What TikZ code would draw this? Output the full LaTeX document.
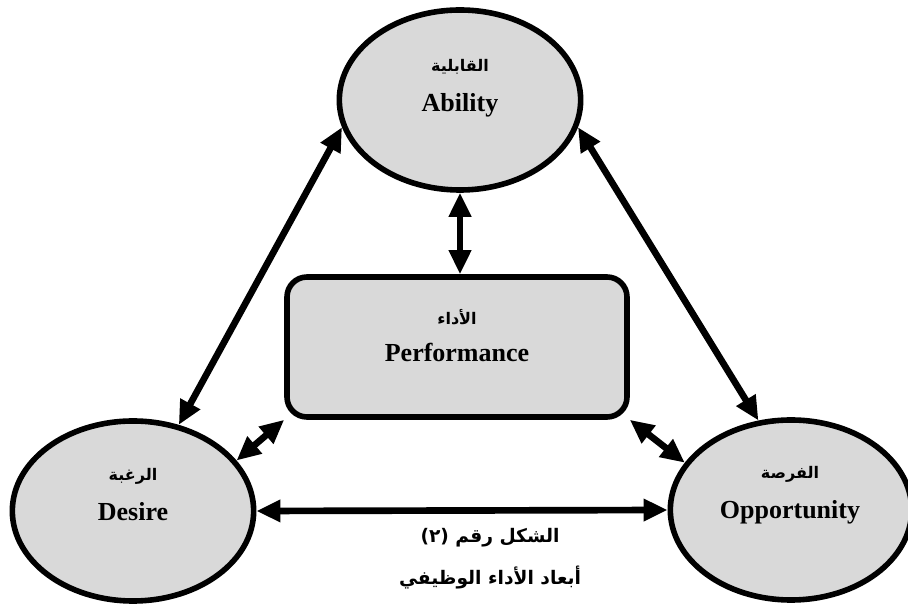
\documentclass[tikz,border=0pt]{standalone}
\usepackage{fontspec}
\setmainfont{Liberation Serif}
\newfontfamily\arabicfont[Script=Arabic]{DejaVu Sans}
\TeXXeTstate=1
\usetikzlibrary{arrows.meta,positioning,calc,shapes.geometric}
\definecolor{dimfill}{RGB}{217,217,217}

\tikzset{
  dim/.style={draw,ellipse,fill=dimfill,line width=4.2pt,minimum width=181pt,minimum height=135pt,inner sep=0pt},
  core/.style={draw,rectangle,rounded corners=15pt,fill=dimfill,line width=4.2pt,minimum width=255pt,minimum height=105pt,inner sep=0pt},
  entxt/.style={font=\fontsize{19.5}{23}\selectfont\bfseries,anchor=base,inner sep=0pt},
  artxt/.style={font=\arabicfont\bfseries\fontsize{12}{14}\selectfont,inner sep=0pt},
  captxt/.style={font=\arabicfont\bfseries\fontsize{14}{17}\selectfont,inner sep=0pt},
  link/.style={{Triangle[length=18pt,width=16pt]}-{Triangle[length=18pt,width=16pt]},line width=5pt},
}

\begin{document}
\begin{tikzpicture}[x=0.75pt,y=-0.75pt]
  \useasboundingbox (0,0) rectangle (908,605);
  % dimensions
  \node[dim] (ability) at (460,100) {};
  \node[dim] (desire) at (133,511) {};
  \node[dim] (opp) at (791,510) {};
  \node[core] (perf) at (457,347) {};
  % labels
  \node[artxt] (abilityAr) at (460,67) {\beginR القابلية\endR};
  \node[entxt] (abilityEn) at (460,112) {Ability};
  \node[artxt] (perfAr) at (457,317) {\beginR الأداء\endR};
  \node[entxt] (perfEn) at (457,362) {Performance};
  \node[artxt] (desireAr) at (133,476) {\beginR الرغبة\endR};
  \node[entxt] (desireEn) at (133,521) {Desire};
  \node[artxt] (oppAr) at (790,474) {\beginR الفرصة\endR};
  \node[entxt] (oppEn) at (790,519) {Opportunity};
  % links
  \draw[link] (ability.193) -- (desire.62);
  \draw[link] (ability.-13) -- (opp.110);
  \draw[link] (ability.south) -- (ability.south |- perf.north);
  \draw[link] (desire.26) -- (perf.south west);
  \draw[link] (opp.156) -- (perf.south east);
  \draw[link] (desire.east) -- (opp.west);
  % caption
  \node[captxt] (capA) at (490,538) {\beginR الشكل رقم (٢)\endR};
  \node[captxt] (capB) at (490,578) {\beginR أبعاد الأداء الوظيفي\endR};
\end{tikzpicture}
\end{document}
